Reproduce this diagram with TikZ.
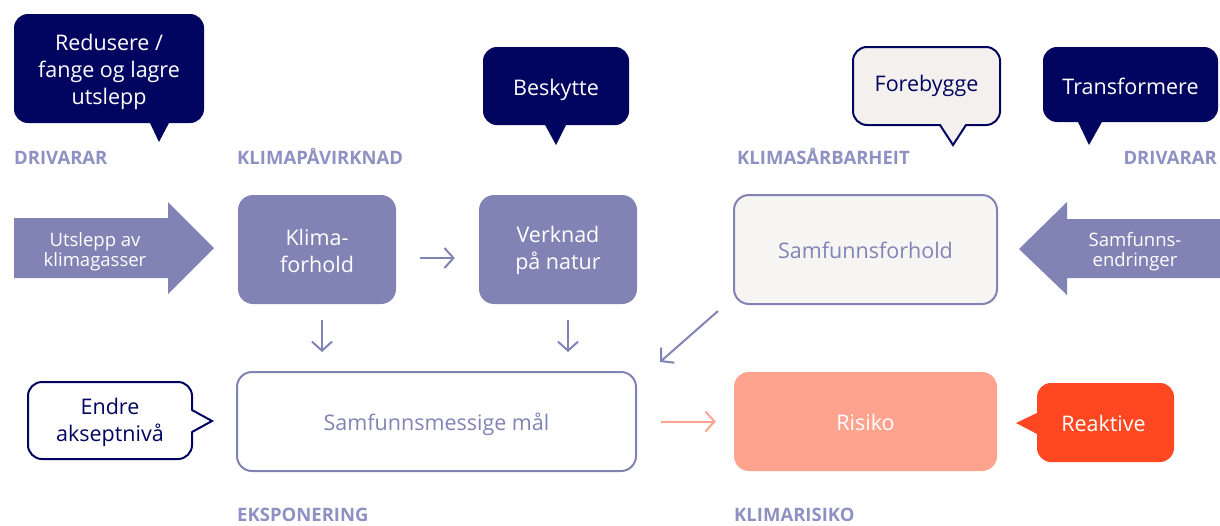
\documentclass[tikz,border=0pt]{standalone}
\usepackage{fontspec}
\setmainfont{Open Sans}
\usetikzlibrary{arrows.meta}
\definecolor{navy}{HTML}{02055F}
\definecolor{lav}{HTML}{8283B5}
\definecolor{labc}{HTML}{8F91C3}
\definecolor{cream}{HTML}{F6F5F4}
\definecolor{creamb}{HTML}{F3F0EE}
\definecolor{salmon}{HTML}{FFA38F}
\definecolor{reakt}{HTML}{FF4822}
\tikzset{
 box/.style={rectangle, rounded corners=15pt, inner sep=0pt},
 bubble/.style={rectangle, rounded corners=14pt, inner sep=0pt},
 txt/.style={inner sep=0pt, align=center, font=\fontsize{21.5}{27}\selectfont},
 lbl/.style={font=\bfseries\fontsize{18.5}{20}\selectfont, text=labc, inner sep=0pt},
 conn/.style={draw=lav, line width=2pt, -{Straight Barb[length=9pt,width=20pt]}},
 arrtext/.style={font=\fontsize{18.5}{20}\selectfont, text=white, align=center, inner sep=0pt},
}
\begin{document}
\begin{tikzpicture}[x=1pt,y=-1pt]
\useasboundingbox (0,0) rectangle (1220,525);

% bubbles
\node[bubble, fill=navy, minimum width=190pt, minimum height=109pt] (red) at (109,68.5) {};
\fill[navy] (149,121) -- (159,142) -- (170,121) -- cycle;
\node[txt, text=white] (redt) at ([yshift=-3pt]red.center) {Redusere /\\fange og lagre\\utslepp};

\node[bubble, fill=navy, minimum width=146pt, minimum height=78pt] (besk) at (556,86) {};
\fill[navy] (544,123) -- (556,145) -- (567,123) -- cycle;
\node[txt, text=white] (beskt) at ([yshift=-3.5pt]besk.center) {Beskytte};

\node[bubble, fill=creamb, draw=navy, line width=2pt, minimum width=147pt, minimum height=78pt] (fore) at (926.5,86) {};
\fill[creamb] (940,123) -- (953,145) -- (966,123) -- cycle;
\draw[navy, line width=2pt] (940,125) -- (953,145) -- (966,125);
\node[txt, text=navy] (foret) at ([yshift=0pt]fore.center) {Forebygge};

\node[bubble, fill=navy, minimum width=175pt, minimum height=75pt] (trans) at (1130.5,84.5) {};
\fill[navy] (1077,120) -- (1089,145) -- (1103,120) -- cycle;
\node[txt, text=white] (transt) at ([yshift=-2pt]trans.center) {Transformere};

\node[bubble, fill=white, draw=navy, line width=2pt, minimum width=164pt, minimum height=77pt] (endre) at (110,420.5) {};
\fill[white] (190,410) -- (212,421) -- (190,432) -- cycle;
\draw[navy, line width=2pt] (192,410) -- (212,421) -- (192,432);
\node[txt, text=navy] (endret) at ([yshift=-2pt]endre.center) {Endre\\akseptnivå};

\node[bubble, fill=reakt, minimum width=137pt, minimum height=79pt] (reak) at (1105.5,422.5) {};
\fill[reakt] (1039,412) -- (1016,423) -- (1039,435) -- cycle;
\node[txt, text=white] (reakt) at ([xshift=-2pt,yshift=-1pt]reak.center) {Reaktive};

% labels
\node[lbl, anchor=base west] (l1) at (14,164) {DRIVARAR};
\node[lbl, anchor=base west] (l2) at (237,164) {KLIMAPÅVIRKNAD};
\node[lbl, anchor=base west] (l3) at (737,164) {KLIMASÅRBARHEIT};
\node[lbl, anchor=base east] (l4) at (1217,164) {DRIVARAR};
\node[lbl, anchor=base west] (l5) at (237,521.5) {EKSPONERING};
\node[lbl, anchor=base west] (l6) at (734,521.5) {KLIMARISIKO};

% block arrows
\fill[lav] (14,218) -- (168,218) -- (168,202) -- (214,248) -- (168,294) -- (168,278) -- (14,278) -- cycle;
\node[arrtext] (utsl) at (95,251.5) {Utslepp av\\klimagasser};
\fill[lav] (1220,219) -- (1067,219) -- (1067,202) -- (1019,249) -- (1067,295) -- (1067,278) -- (1220,278) -- cycle;
\node[arrtext] (samend) at (1135,251.5) {Samfunns-\\endringer};

% boxes
\node[box, fill=lav, minimum width=158pt, minimum height=109pt] (klima) at (317,249.5) {};
\node[txt, text=white] (klimat) at ([yshift=-1pt]klima.center) {Klima-\\forhold};
\node[box, fill=lav, minimum width=158pt, minimum height=109pt] (verk) at (558,249.5) {};
\node[txt, text=white] (verkt) at ([yshift=-1pt]verk.center) {Verknad\\på natur};
\node[box, fill=cream, draw=lav, line width=2pt, minimum width=263pt, minimum height=109pt] (samf) at (865.5,249.5) {};
\node[txt, text=lav] (samft) at ([yshift=-1pt]samf.center) {Samfunnsforhold};
\node[box, fill=white, draw=lav, line width=2pt, minimum width=399pt, minimum height=99pt] (mal) at (436.5,421.5) {};
\node[txt, text=lav] (malt) at ([yshift=-3pt]mal.center) {Samfunnsmessige mål};
\node[box, fill=salmon, minimum width=263pt, minimum height=99pt] (risk) at (865.5,421.5) {};
\node[txt, text=white] (riskt) at ([yshift=-1pt]risk.center) {Risiko};

% connectors
\draw[conn, shorten <=24pt, shorten >=24pt] ([yshift=-8.5pt]klima.east) -- ([yshift=-8.5pt]verk.west);
\draw[conn, shorten <=16pt, shorten >=19pt] ([xshift=5pt]klima.south) -- ([xshift=5pt]klima.south |- mal.north);
\draw[conn, shorten <=16pt, shorten >=19pt] ([xshift=10pt]verk.south) -- ([xshift=10pt]verk.south |- mal.north);
\draw[conn] ([xshift=-15pt,yshift=-6pt]samf.south west) -- ([xshift=23pt,yshift=9pt]mal.north east);
\draw[conn, draw=salmon, shorten <=24pt, shorten >=18pt] (mal.east) -- (risk.west);
\end{tikzpicture}
\end{document}
